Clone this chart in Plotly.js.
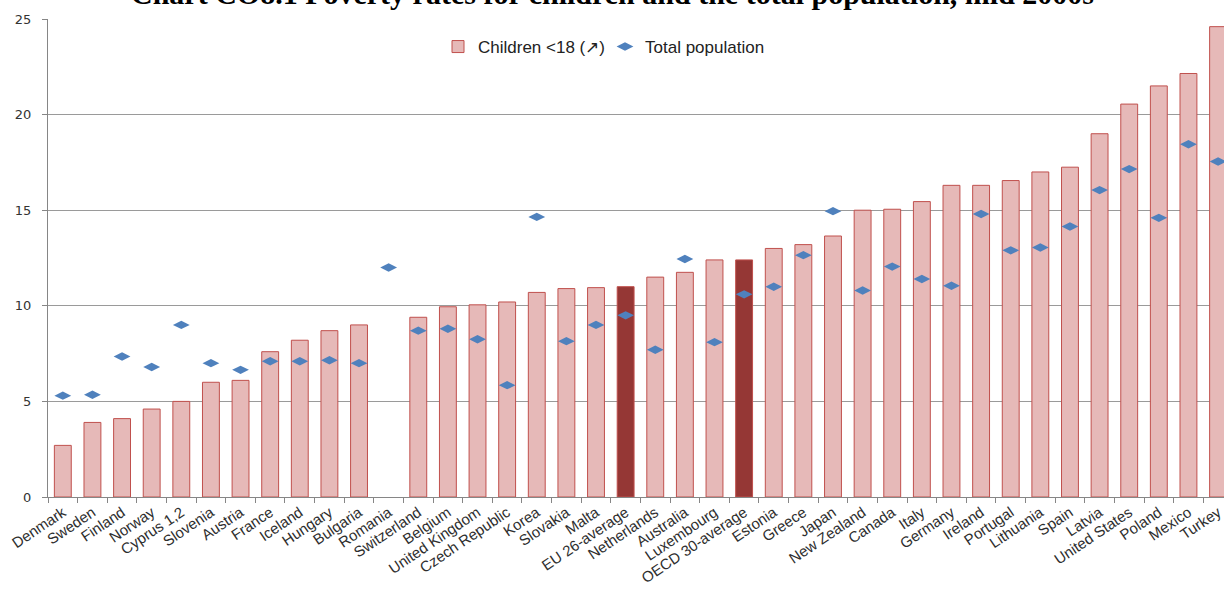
<!DOCTYPE html>
<html>
<head>
<meta charset="utf-8">
<script src="https://cdn.plot.ly/plotly-3.0.1.min.js"></script>
<style>html,body{margin:0;padding:0;background:#fff;}#chart{width:1224px;height:590px;}</style>
</head>
<body>
<div id="chart"></div>
<script>
const countries = ["Denmark","Sweden","Finland","Norway","Cyprus 1,2","Slovenia","Austria","France","Iceland","Hungary","Bulgaria","Romania","Switzerland","Belgium","United Kingdom","Czech Republic","Korea","Slovakia","Malta","EU 26-average","Netherlands","Australia","Luxembourg","OECD 30-average","Estonia","Greece","Japan","New Zealand","Canada","Italy","Germany","Ireland","Portugal","Lithuania","Spain","Latvia","United States","Poland","Mexico","Turkey"];
const children = [2.7,3.9,4.1,4.6,5.0,6.0,6.1,7.6,8.2,8.7,9.0,null,9.4,9.95,10.05,10.2,10.7,10.9,10.95,11.0,11.5,11.75,12.4,12.4,13.0,13.2,13.65,15.0,15.05,15.45,16.3,16.3,16.55,17.0,17.25,19.0,20.55,21.5,22.15,24.6];
const totalPop = [5.3,5.35,7.35,6.8,9.0,7.0,6.65,7.1,7.1,7.15,7.0,12.0,8.7,8.8,8.25,5.85,14.65,8.15,9.0,9.5,7.7,12.45,8.1,10.6,11.0,12.65,14.95,10.8,12.05,11.4,11.05,14.8,12.9,13.05,14.15,16.05,17.15,14.6,18.45,17.55];
const seriesNames = ["Children <18 (\u2197)","Total population"];
const titleText = "Chart CO8.1 Poverty rates for children and the total population, mid 2000s";

const barFill = countries.map(c => c.indexOf("average") >= 0 ? "#953735" : "#e6b9b8");

// plot area in pixels: left 48, top 19, bottom 497, right 1224
const PL = 48, PT = 19, PB = 497, PR = 1224;
const px2x = p => (p - PL) / (PR - PL);
const py2y = p => (PB - p) / (PB - PT);

const traces = [
  {
    type: "bar", name: seriesNames[0], x: countries, y: children,
    marker: {color: barFill, line: {color: "#c0504d", width: 1}},
    legend: "legend", hoverinfo: "x+y"
  },
  {
    type: "scatter", mode: "markers", name: seriesNames[1], x: countries, y: totalPop,
    marker: {symbol: "diamond-wide", size: 12, color: "#4f81bd"},
    legend: "legend2", cliponaxis: false
  }
];

const legendFont = {family: "Liberation Sans, Arial, sans-serif", size: 17, color: "#222222"};

const layout = {
  width: 1224, height: 590,
  margin: {l: PL, r: 1224 - PR, t: PT, b: 590 - PB, pad: 0, autoexpand: false},
  paper_bgcolor: "#ffffff", plot_bgcolor: "#ffffff",
  bargap: 0.43,
  showlegend: true,
  xaxis: {
    type: "category", range: [-0.5, 39.2], tickangle: -34,
    tickson: "boundaries", ticks: "outside", ticklen: 5, tickcolor: "#868686",
    showline: true, linecolor: "#868686", linewidth: 1, showgrid: false, zeroline: false,
    tickfont: {family: "Liberation Sans, Arial, sans-serif", size: 15, color: "#2e2e2e"},
    automargin: false
  },
  yaxis: {
    range: [0, 25], dtick: 5, tick0: 0, ticks: "outside", ticklen: 5, tickcolor: "#868686",
    showline: true, linecolor: "#868686", linewidth: 1,
    showgrid: true, gridcolor: "#9a9a9a", gridwidth: 1, zeroline: false,
    tickfont: {family: "DejaVu Sans, Verdana, sans-serif", size: 13, color: "#333333"},
    ticklabelstandoff: 8, automargin: false
  },
  legend: {
    orientation: "h", x: px2x(438), y: py2y(47), xanchor: "left", yanchor: "middle",
    bgcolor: "rgba(0,0,0,0)", borderwidth: 0, font: legendFont
  },
  legend2: {
    orientation: "h", x: px2x(605), y: py2y(47), xanchor: "left", yanchor: "middle",
    bgcolor: "rgba(0,0,0,0)", borderwidth: 0, font: legendFont
  },
  annotations: [{
    text: "<b>" + titleText + "</b>", xref: "paper", yref: "paper",
    x: px2x(612), y: py2y(-6), xanchor: "center", yanchor: "middle", showarrow: false,
    font: {family: "Liberation Serif, Times New Roman, serif", size: 30, color: "#000000"}
  }]
};

Plotly.newPlot("chart", traces, layout, {displayModeBar: false, staticPlot: true});
</script>
</body>
</html>
